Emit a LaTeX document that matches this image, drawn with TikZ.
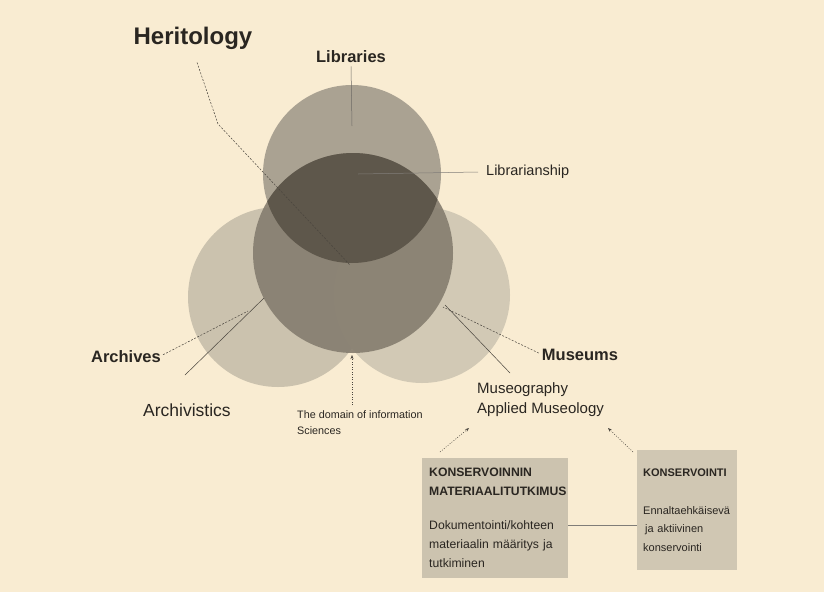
\documentclass[tikz,border=0pt]{standalone}
\usepackage{fontspec}
\setmainfont{Liberation Sans}
\usetikzlibrary{arrows.meta}
\definecolor{bg}{HTML}{F9ECD2}
\definecolor{arcc}{HTML}{CBC2AE}
\definecolor{musc}{HTML}{D2C9B5}
\definecolor{libc}{HTML}{AAA292}
\definecolor{cenc}{HTML}{857D6F}
\definecolor{lensc}{HTML}{5E574B}
\definecolor{boxc}{HTML}{CCC3AF}
\definecolor{boxc2}{HTML}{D0C7B3}
\definecolor{linec}{HTML}{4A453E}
\definecolor{txtc}{HTML}{2A2621}
\tikzset{
  lbl/.style={inner sep=0pt, text=txtc, font=\fontsize{#1}{#1}\selectfont},
  bold lbl/.style={inner sep=0pt, text=txtc, font=\fontsize{#1}{#1}\selectfont\bfseries},
  thinline/.style={draw=linec, line width=0.5pt},
  dashline/.style={draw=linec, line width=0.5pt, dash pattern=on 2pt off 1.5pt},
  dotarrow/.style={draw=linec, line width=0.5pt, dash pattern=on 1pt off 1.5pt, -{Stealth[length=4pt,width=3pt]}},
  infobox/.style={anchor=north west, inner xsep=7pt, inner ysep=8pt, align=left,
    font=\fontsize{12.2}{19}\selectfont, text=txtc},
}
\begin{document}
\begin{tikzpicture}[x=1pt,y=-1pt]
\fill[bg] (0,0) rectangle (824,592);
\useasboundingbox (0,0) rectangle (824,592);

% circles
\fill[arcc] (278,297) circle (90pt);
\fill[musc] (422,295) circle (88pt);
\fill[libc] (352,174) circle (89pt);
\fill[cenc, fill opacity=0.9] (353,253) circle (100pt);
\begin{scope}
  \clip (352,174) circle (89pt);
  \fill[lensc] (353,253) circle (100pt);
\end{scope}

% labels
\node[bold lbl=24] (her) at (193,38) {Heritology};
\node[bold lbl=16.5] (lib) at (351,57) {Libraries};
\node[lbl=14.5, anchor=west] (libship) at (486,172) {Librarianship};
\node[bold lbl=16.5] (arc) at (126,357) {Archives};
\node[lbl=17.5] (arcs) at (187,410) {Archivistics};
\node[bold lbl=16.5] (mus) at (580,355) {Museums};
\node[lbl=15, anchor=north west, align=left, font=\fontsize{15}{20}\selectfont] (museo) at (477,382) {Museography\\Applied Museology};
\node[anchor=north west, inner sep=0pt, align=left, text=txtc, font=\fontsize{10.8}{16}\selectfont] (dom) at (297,410) {The domain of information\\Sciences};

% boxes
\node[infobox, fill=boxc, minimum width=146pt, minimum height=120pt, text width=132pt] (box1) at (422,458)
  {\textbf{KONSERVOINNIN}\\\textbf{MATERIAALITUTKIMUS}\\[15pt]Dokumentointi/kohteen\\materiaalin määritys ja\\tutkiminen};
\node[infobox, fill=boxc2, minimum width=100pt, minimum height=120pt, text width=88pt, inner xsep=6pt,
  font=\fontsize{11}{18.5}\selectfont] (box2) at (637,450)
  {\textbf{KONSERVOINTI}\\[19pt]Ennaltaehkäisevä\\\hspace*{2pt}ja aktiivinen\\konservointi};

% connector coordinates
\coordinate (herbend) at (218,124);
\coordinate (herend) at (350,265);
\coordinate (libend) at (352,126);
\coordinate (libshipend) at (358,174);
\coordinate (arcend) at (248,311);
\coordinate (arcsstart) at (185,375);
\coordinate (arcsend) at (264,298);
\coordinate (musend) at (443,307);
\coordinate (museostart) at (510,373);
\coordinate (museoend) at (445,305);
\coordinate (domtip) at (352,355);
\coordinate (domstart) at (352,405);
\coordinate (b1start) at (440,452);
\coordinate (b1tip) at (469,428);
\coordinate (b2start) at (633,452);
\coordinate (b2tip) at (608,428);

% connectors
\draw[dashline] ([shift={(4pt,-13pt)}]her.south) -- (herbend) -- (herend);
\draw[thinline, draw=linec!80] ([yshift=-3pt]lib.south) -- (libend);
\draw[thinline, draw=linec!70] ([xshift=-8pt]libship.west) -- (libshipend);
\draw[dashline] ([xshift=2pt,yshift=-4pt]arc.north east) -- (arcend);
\draw[thinline] (arcsstart) -- (arcsend);
\draw[dashline] ([xshift=-3pt,yshift=-4pt]mus.north west) -- (musend);
\draw[thinline] (museostart) -- (museoend);
\draw[dotarrow] (domstart) -- (domtip);
\draw[dotarrow] (b1start) -- (b1tip);
\draw[dotarrow] (b2start) -- (b2tip);
\draw[thinline, draw=linec!70] (box1.east |- 0,525) -- (box2.west |- 0,525);
\end{tikzpicture}
\end{document}
